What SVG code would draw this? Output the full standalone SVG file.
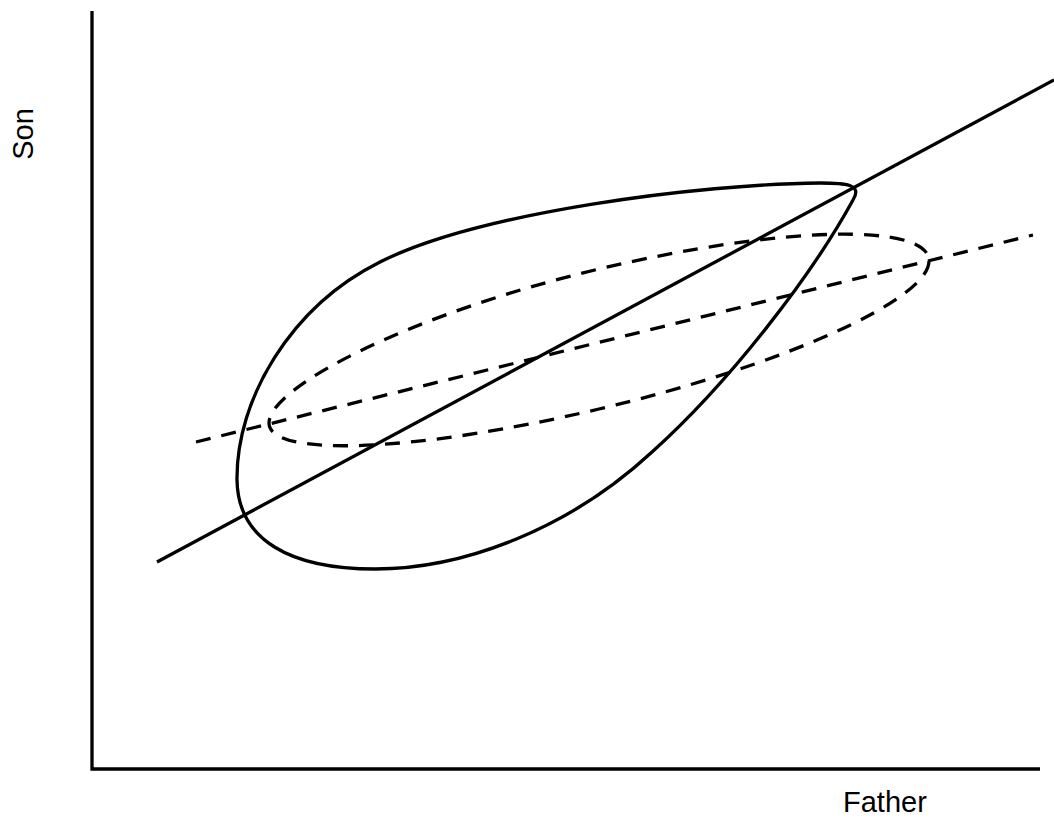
<svg xmlns="http://www.w3.org/2000/svg" width="1054" height="831" viewBox="0 0 1054 831">
<style>
.ln{fill:none;stroke:#000;stroke-width:3.3}
.dash{stroke-dasharray:15 11}
.lbl{font-family:"Liberation Sans",Arial,sans-serif;font-size:29px;fill:#000}
</style>
<rect width="1054" height="831" fill="#fff"/>
<g id="axes">
<path class="ln" d="M92,11 V769 H1040" stroke-linejoin="miter"/>
</g>
<g id="label-son"><text class="lbl" text-anchor="middle" transform="translate(33,134) rotate(-90)">Son</text></g>
<g id="label-father"><text class="lbl" x="843" y="812">Father</text></g>
<g id="teardrop">
<path class="ln" d="M853,200 C863,184 845,183 820,183 C700,184 480,212 380,262 C290,307 236,400 237,480 C238,540 290,569 375,569 C465,569 570,528 652,452 C730,382 812,275 853,200 Z"/>
</g>
<g id="ellipse">
<path class="ln dash" d="M929,261 C929,299.7 781.3,365.9 599,409 C416.7,452.1 269,458 269,423 C269,386 416.7,312.1 599,269 C781.3,225.9 929,222.3 929,261 Z"/>
</g>
<g id="connectors">
<line class="ln" x1="157" y1="562" x2="1054" y2="80"/>
<line class="ln dash" x1="196" y1="442" x2="1033" y2="235"/>
</g>
</svg>
